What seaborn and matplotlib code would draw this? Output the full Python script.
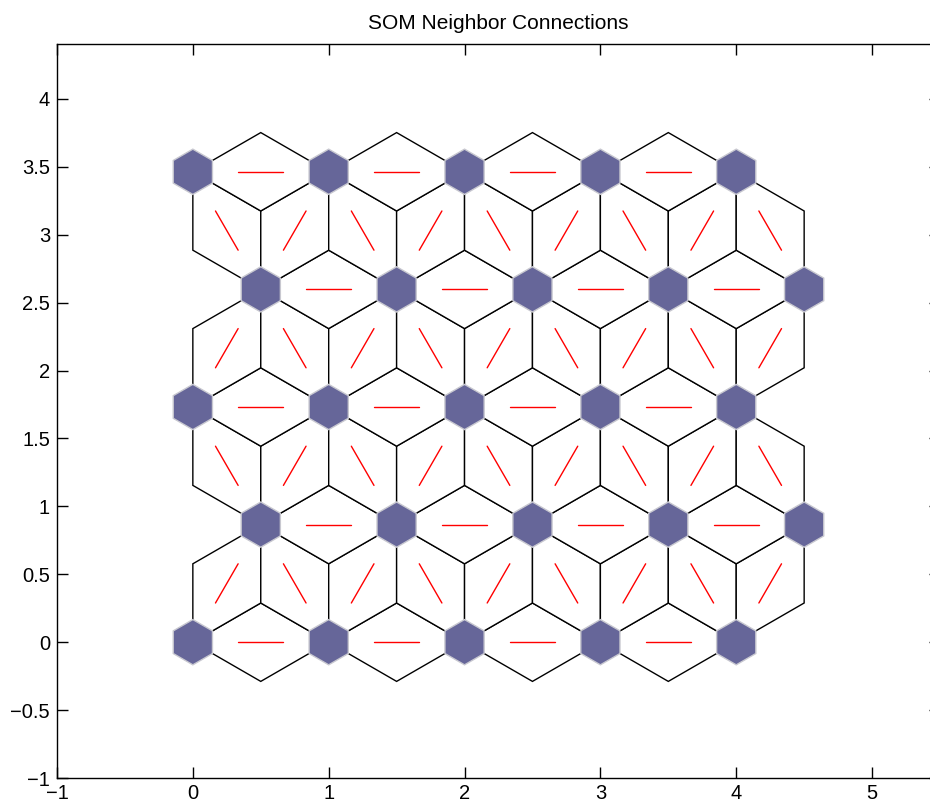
import matplotlib
matplotlib.use("Agg")
import matplotlib.pyplot as plt
import numpy as np
import seaborn as sns
from matplotlib.patches import Polygon, RegularPolygon

# 5x5 hexagonal SOM layout
col_x = [0, 1, 2, 3, 4]
row_y = [0.0, 0.866, 1.732, 2.598, 3.464]
row_shift = [0.0, 0.5, 0.0, 0.5, 0.0]

x_ticks = [-1, 0, 1, 2, 3, 4, 5]
y_ticks = [-1, -0.5, 0, 0.5, 1, 1.5, 2, 2.5, 3, 3.5, 4]

NEURON_COLOR = "#666699"
NEURON_EDGE = "#c8c8d0"
LINE_COLOR = "red"
TITLE = "SOM Neighbor Connections"


def neuron_positions():
    pos = []
    for y, shift in zip(row_y, row_shift):
        for x in col_x:
            pos.append((x + shift, y))
    return np.array(pos)


def neighbor_pairs(pos):
    pairs = []
    for i in range(len(pos)):
        for j in range(i + 1, len(pos)):
            d = np.hypot(*(pos[j] - pos[i]))
            if abs(d - 1.0) < 0.05:
                pairs.append((i, j))
    return pairs


def fmt(v):
    return f"{v:g}".replace("-", "\u2212")


def main():
    sns.set_style("ticks")
    plt.rcParams["font.family"] = ["Liberation Sans", "DejaVu Sans"]
    plt.rcParams["text.color"] = "black"

    pos = neuron_positions()
    pairs = neighbor_pairs(pos)

    fig = plt.figure(figsize=(9.3, 8.06), dpi=100)
    ax = fig.add_axes([57 / 930, 28 / 806, 883 / 930, 734 / 806])

    h = 1 / (2 * np.sqrt(3))
    for i, j in pairs:
        a, b = pos[i], pos[j]
        mid = (a + b) / 2
        d = b - a
        perp = np.array([-d[1], d[0]])
        c1 = mid + perp * h
        c2 = mid - perp * h
        ax.add_patch(Polygon([a, c1, b, c2], closed=True, facecolor="white",
                             edgecolor="black", linewidth=1.0, zorder=1))
        p1 = a + d / 3
        p2 = a + 2 * d / 3
        sns.lineplot(x=[p1[0], p2[0]], y=[p1[1], p2[1]], color=LINE_COLOR,
                     linewidth=1.0, sort=False, ax=ax, zorder=2)

    for x, y in pos:
        ax.add_patch(RegularPolygon((x, y), numVertices=6, radius=1 / 6,
                                    orientation=0, facecolor=NEURON_COLOR,
                                    edgecolor=NEURON_EDGE, linewidth=1.0,
                                    zorder=3))

    ax.set_xlim(-1, 5.5)
    ax.set_ylim(-1, 4.405)
    ax.set_xticks(x_ticks)
    ax.set_xticklabels([fmt(v) for v in x_ticks])
    ax.set_yticks(y_ticks)
    ax.set_yticklabels([fmt(v) for v in y_ticks])
    ax.tick_params(direction="in", length=8, width=1, labelsize=14.5,
                   top=True, right=True, colors="black", labelcolor="black")
    ax.tick_params(axis="y", pad=5)
    ax.tick_params(axis="x", pad=4)
    for s in ax.spines.values():
        s.set_linewidth(1.0)
        s.set_color("black")
        s.set_visible(True)
    ax.set_title(TITLE, fontsize=15, pad=11, color="black")

    fig.savefig("out.png", dpi=100)
    plt.close(fig)


if __name__ == "__main__":
    main()
